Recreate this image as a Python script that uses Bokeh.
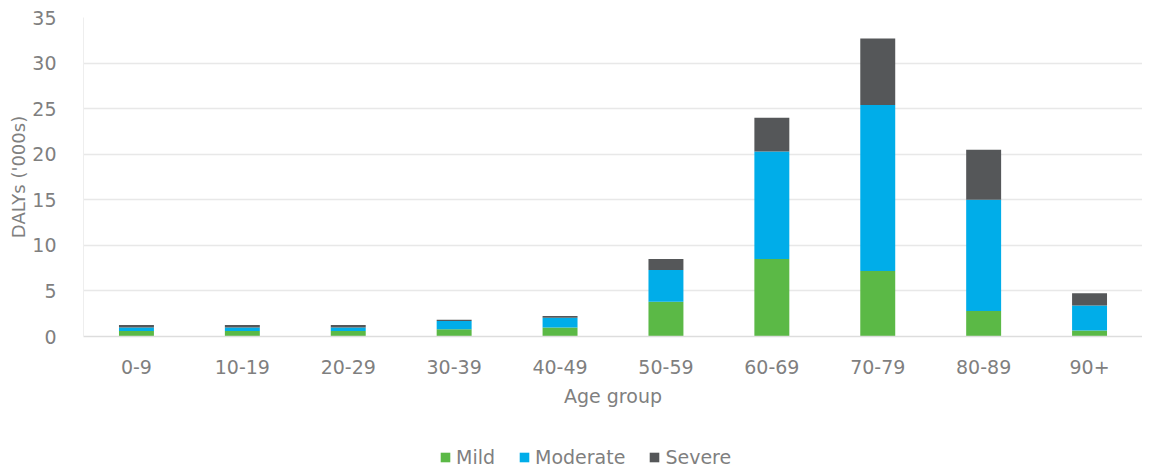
from bokeh.plotting import figure
from bokeh.models import ColumnDataSource, Legend, LegendItem, FixedTicker, Range1d
from bokeh.layouts import column
from bokeh.embed import file_html
from bokeh.resources import INLINE

age_groups = ["0-9", "10-19", "20-29", "30-39", "40-49", "50-59", "60-69", "70-79", "80-89", "90+"]
mild = [0.6, 0.6, 0.6, 0.8, 1.0, 3.8, 8.5, 7.2, 2.8, 0.65]
moderate = [0.4, 0.4, 0.4, 0.9, 1.05, 3.5, 11.8, 18.2, 12.2, 2.75]
severe = [0.25, 0.25, 0.25, 0.15, 0.2, 1.2, 3.7, 7.3, 5.5, 1.35]
series = ["Mild", "Moderate", "Severe"]
colors = ["#5BB946", "#00ADE9", "#555759"]
y_ticks = [0, 5, 10, 15, 20, 25, 30, 35]

FONT = "DejaVu Sans"
TXT = "#7F7F7F"

src = ColumnDataSource(dict(age=age_groups, Mild=mild, Moderate=moderate, Severe=severe))

p = figure(x_range=age_groups, width=1142, height=416, output_backend="svg",
           toolbar_location=None, tools="",
           min_border_left=83, min_border_right=0, min_border_top=17, min_border_bottom=80)
p.y_range = Range1d(0, 35)

rs = p.vbar_stack(series, x="age", width=0.33, source=src, color=colors, line_color=None)

p.outline_line_color = None
p.background_fill_color = "white"

p.xgrid.grid_line_color = None
p.ygrid.grid_line_color = "#E8E8E8"
p.ygrid.grid_line_width = 1.5

p.yaxis.ticker = FixedTicker(ticks=y_ticks)
p.yaxis.axis_line_color = "#EEEEEE"
p.yaxis.major_tick_line_color = None
p.yaxis.minor_tick_line_color = None
p.yaxis.major_label_standoff = 21
p.yaxis.axis_label = "DALYs ('000s)"
p.yaxis.axis_label_standoff = 0

p.xaxis.axis_line_color = "#DDDDDD"
p.xaxis.axis_line_width = 1.5
p.xaxis.major_tick_line_color = None
p.xaxis.minor_tick_line_color = None
p.xaxis.major_label_standoff = 17
p.xaxis.axis_label = "Age group"
p.xaxis.axis_label_standoff = 8

for ax in (p.xaxis[0], p.yaxis[0]):
    ax.major_label_text_font = FONT
    ax.major_label_text_font_size = "19px"
    ax.major_label_text_color = TXT
    ax.axis_label_text_font = FONT
    ax.axis_label_text_font_size = "19px"
    ax.axis_label_text_font_style = "normal"
    ax.axis_label_text_color = TXT
p.yaxis.axis_label_text_font_size = "18px"

# legend strip: same bars drawn out of view, legend only
q = figure(x_range=p.x_range, width=1142, height=52, output_backend="svg",
           toolbar_location=None, tools="",
           min_border_left=0, min_border_right=0, min_border_top=0, min_border_bottom=0)
q.y_range = Range1d(100, 101)
qs = q.vbar_stack(series, x="age", width=0.33, source=src, color=colors, line_color=None)
q.axis.visible = False
q.grid.visible = False
q.outline_line_color = None

items = [LegendItem(label=s, renderers=[r]) for s, r in zip(series, qs)]
legend = Legend(items=items, orientation="horizontal", location=(356, 0),
                label_text_font=FONT, label_text_font_size="19px", label_text_color=TXT,
                glyph_width=12, glyph_height=12, label_standoff=5, spacing=23,
                padding=0, margin=0, border_line_color=None, background_fill_alpha=0)
q.add_layout(legend, "center")

layout = column(p, q, spacing=0)
open("out.html", "w").write(file_html(layout, INLINE))
